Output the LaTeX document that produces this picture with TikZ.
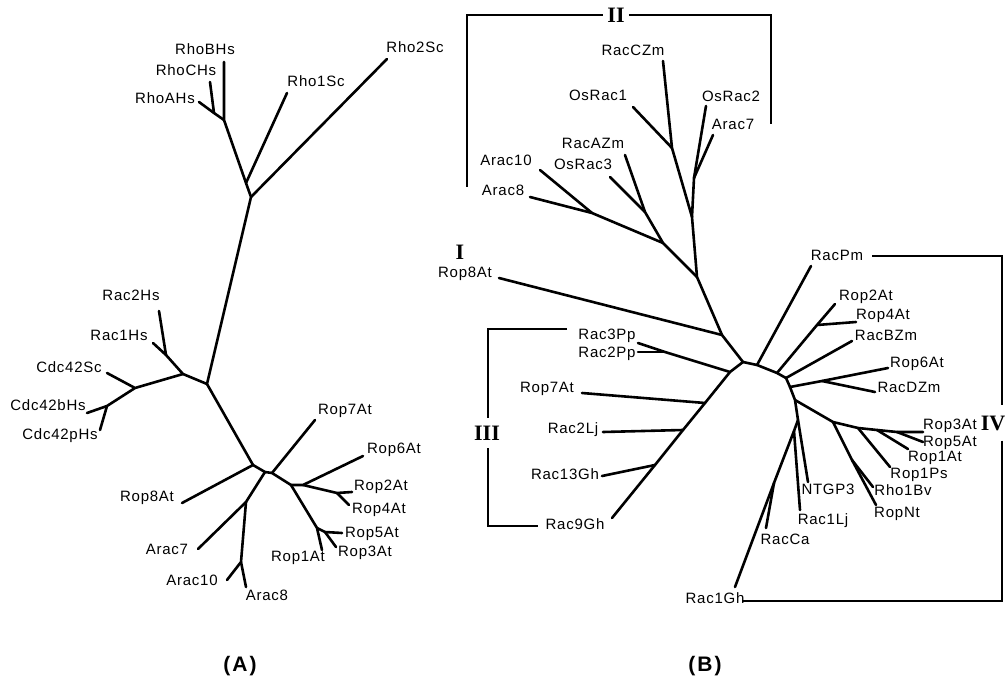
\documentclass[tikz,border=0pt]{standalone}
\usepackage{fontspec}
\setmainfont{Liberation Sans}
\newfontfamily\labfont[LetterSpace=5]{Liberation Sans}
\newfontfamily\romfont{Liberation Serif}
\newfontfamily\capfont[LetterSpace=10]{Liberation Sans}
\begin{document}
\begin{tikzpicture}[x=1pt,y=-1pt,
  br/.style={line width=2.6pt, line cap=round, line join=round},
  bk/.style={line width=1.9pt},
  lab/.style={font=\labfont\fontsize{15}{15}\selectfont, inner sep=0pt, anchor=mid},
  rom/.style={font=\romfont\bfseries\fontsize{22}{22}\selectfont, inner sep=4pt},
  captext/.style={font=\capfont\bfseries\fontsize{21}{21}\selectfont, inner sep=0pt}]
\useasboundingbox (0,0) rectangle (1005,682);

% ================= Panel A =================
\coordinate (aRhoABC) at (224,120);
\coordinate (aRhoAC) at (214,113);
\coordinate (aRho1j) at (246,183);
\coordinate (aRhoRoot) at (251,197);
\coordinate (aMid) at (207,384);
\coordinate (aRacJ) at (183,374);
\coordinate (aRac12) at (166,355);
\coordinate (aCdcJ) at (135,388);
\coordinate (aCdcBP) at (107,406);
\coordinate (aLow) at (253,465);
\coordinate (aAracJ) at (265,472);
\coordinate (aRop7J) at (272,473);
\coordinate (aRop) at (291,485);
\coordinate (aArac) at (246,502);
\coordinate (aArac108) at (241,562);
\coordinate (aRop6J) at (303,485);
\coordinate (aRop24) at (337,493);
\coordinate (aRop135) at (317,528);
\coordinate (aRop35) at (325,532);

\coordinate (tRhoBHs) at (224,62);
\coordinate (tRhoCHs) at (210,82);
\coordinate (tRhoAHs) at (199,102);
\coordinate (tRho1Sc) at (287,93);
\coordinate (tRho2Sc) at (387,59);
\coordinate (tRac2Hs) at (159,311);
\coordinate (tRac1Hs) at (153,343);
\coordinate (tCdc42Sc) at (107,373);
\coordinate (tCdc42bHs) at (87,413);
\coordinate (tCdc42pHs) at (100,430);
\coordinate (tRop8At) at (182,503);
\coordinate (tRop7At) at (315,420);
\coordinate (tArac7) at (198,549);
\coordinate (tArac10) at (227,580);
\coordinate (tArac8) at (246,587);
\coordinate (tRop6At) at (363,456);
\coordinate (tRop2At) at (352,492);
\coordinate (tRop4At) at (349,505);
\coordinate (tRop1At) at (322,550);
\coordinate (tRop5At) at (342,533);
\coordinate (tRop3At) at (336,547);

\draw[br] (tRhoBHs)--(aRhoABC)--(aRho1j)--(aRhoRoot)--(aMid)--(aLow);
\draw[br] (tRhoCHs)--(aRhoAC);
\draw[br] (tRhoAHs)--(aRhoAC)--(aRhoABC);
\draw[br] (tRho1Sc)--(aRho1j);
\draw[br] (tRho2Sc)--(aRhoRoot);
\draw[br] (aMid)--(aRacJ)--(aRac12)--(tRac1Hs);
\draw[br] (aRac12)--(tRac2Hs);
\draw[br] (aRacJ)--(aCdcJ)--(tCdc42Sc);
\draw[br] (aCdcJ)--(aCdcBP)--(tCdc42bHs);
\draw[br] (aCdcBP)--(tCdc42pHs);
\draw[br] (aLow)--(tRop8At);
\draw[br] (aLow)--(aAracJ)--(aRop7J)--(aRop);
\draw[br] (aRop7J)--(tRop7At);
\draw[br] (aAracJ)--(aArac)--(tArac7);
\draw[br] (aArac)--(aArac108)--(tArac10);
\draw[br] (aArac108)--(tArac8);
\draw[br] (aRop)--(aRop6J)--(tRop6At);
\draw[br] (aRop6J)--(aRop24)--(tRop2At);
\draw[br] (aRop24)--(tRop4At);
\draw[br] (aRop)--(aRop135)--(tRop1At);
\draw[br] (aRop135)--(aRop35)--(tRop5At);
\draw[br] (aRop35)--(tRop3At);

\node[lab] (lRhoBHs) at (205,52) {RhoBHs};
\node[lab] (lRhoCHs) at (186,73) {RhoCHs};
\node[lab] (lRhoAHs) at (165,101) {RhoAHs};
\node[lab] (lRho1Sc) at (316,84) {Rho1Sc};
\node[lab] (lRho2Sc) at (415,50) {Rho2Sc};
\node[lab] (lRac2Hs) at (131,298) {Rac2Hs};
\node[lab] (lRac1Hs) at (119,338) {Rac1Hs};
\node[lab] (lCdc42Sc) at (69,370) {Cdc42Sc};
\node[lab] (lCdc42bHs) at (48,408) {Cdc42bHs};
\node[lab] (lCdc42pHs) at (60,437) {Cdc42pHs};
\node[lab] (lRop7At) at (345,412) {Rop7At};
\node[lab] (lRop6At) at (394,451) {Rop6At};
\node[lab] (lRop2At) at (381,488) {Rop2At};
\node[lab] (lRop4At) at (379,511) {Rop4At};
\node[lab] (lRop5At) at (372,535) {Rop5At};
\node[lab] (lRop3At) at (365,554) {Rop3At};
\node[lab] (lRop1At) at (298,559) {Rop1At};
\node[lab] (lRop8At) at (147,499) {Rop8At};
\node[lab] (lArac7) at (167,552) {Arac7};
\node[lab] (lArac10) at (192,583) {Arac10};
\node[lab] (lArac8) at (267,598) {Arac8};

% ================= Panel B =================
\coordinate (bOs1) at (672,148);
\coordinate (bOs2A7) at (694,178);
\coordinate (bIIa) at (692,217);
\coordinate (bIIb) at (663,243);
\coordinate (bRacA) at (645,212);
\coordinate (bArac810) at (592,213);
\coordinate (bII) at (697,277);
\coordinate (bRop8) at (722,335);
\coordinate (r1) at (743,362);
\coordinate (r2) at (757,365);
\coordinate (r3) at (777,373);
\coordinate (r4) at (786,378);
\coordinate (r5) at (790,387);
\coordinate (r6) at (795,400);
\coordinate (r7) at (798,420);
\coordinate (c1) at (730,372);
\coordinate (cPp) at (665,352);
\coordinate (cRop7) at (705,403);
\coordinate (cLj) at (683,430);
\coordinate (cGh13) at (655,465);
\coordinate (dRop4) at (817,325);
\coordinate (dDZm) at (822,381);
\coordinate (g1) at (833,422);
\coordinate (g2) at (858,428);
\coordinate (g3) at (877,430);
\coordinate (g4) at (897,432);
\coordinate (hNt) at (852,460);
\coordinate (kLj) at (794,431);
\coordinate (kCa) at (774,483);

\coordinate (tRacCZm) at (663,61);
\coordinate (tOsRac1) at (633,107);
\coordinate (tOsRac2) at (706,106);
\coordinate (tArac7b) at (713,135);
\coordinate (tRacAZm) at (625,155);
\coordinate (tOsRac3) at (610,177);
\coordinate (tArac10b) at (540,170);
\coordinate (tArac8b) at (530,197);
\coordinate (tRop8Atb) at (499,278);
\coordinate (tRac3Pp) at (638,343);
\coordinate (tRac2Pp) at (638,352);
\coordinate (tRop7Atb) at (582,393);
\coordinate (tRac2Lj) at (603,432);
\coordinate (tRac13Gh) at (602,476);
\coordinate (tRac9Gh) at (612,518);
\coordinate (tRacPm) at (811,266);
\coordinate (tRop2Atb) at (835,304);
\coordinate (tRop4Atb) at (856,322);
\coordinate (tRacBZm) at (852,341);
\coordinate (tRop6Atb) at (888,368);
\coordinate (tRacDZm) at (875,392);
\coordinate (tRop3Atb) at (923,432);
\coordinate (tRop5Atb) at (923,442);
\coordinate (tRop1Atb) at (908,449);
\coordinate (tRop1Ps) at (890,467);
\coordinate (tRho1Bv) at (873,487);
\coordinate (tRopNt) at (876,505);
\coordinate (tNTGP3) at (808,482);
\coordinate (tRac1Lj) at (800,510);
\coordinate (tRacCa) at (766,528);
\coordinate (tRac1Gh) at (735,587);

\draw[br] (tRacCZm)--(bOs1)--(bIIa)--(bII)--(bRop8)--(r1);
\draw[br] (tOsRac1)--(bOs1);
\draw[br] (tOsRac2)--(bOs2A7)--(bIIa);
\draw[br] (tArac7b)--(bOs2A7);
\draw[br] (bII)--(bIIb)--(bRacA)--(tRacAZm);
\draw[br] (bRacA)--(tOsRac3);
\draw[br] (bIIb)--(bArac810)--(tArac8b);
\draw[br] (bArac810)--(tArac10b);
\draw[br] (bRop8)--(tRop8Atb);
\draw[br] (r1)--(r2)--(r3)--(r4)--(r5)--(r6)--(r7);
\draw[br] (r1)--(c1)--(cPp)--(tRac3Pp);
\draw[br] (cPp)--(tRac2Pp);
\draw[br] (c1)--(cRop7)--(cLj)--(cGh13)--(tRac9Gh);
\draw[br] (cRop7)--(tRop7Atb);
\draw[br] (cLj)--(tRac2Lj);
\draw[br] (cGh13)--(tRac13Gh);
\draw[br] (r2)--(tRacPm);
\draw[br] (r3)--(dRop4)--(tRop2Atb);
\draw[br] (dRop4)--(tRop4Atb);
\draw[br] (r4)--(tRacBZm);
\draw[br] (r5)--(dDZm)--(tRop6Atb);
\draw[br] (dDZm)--(tRacDZm);
\draw[br] (r6)--(g1)--(g2)--(g3)--(g4)--(tRop3Atb);
\draw[br] (g4)--(tRop5Atb);
\draw[br] (g3)--(tRop1Atb);
\draw[br] (g2)--(tRop1Ps);
\draw[br] (g1)--(hNt)--(tRopNt);
\draw[br] (hNt)--(tRho1Bv);
\draw[br] (r7)--(tNTGP3);
\draw[br] (r7)--(kLj)--(kCa)--(tRac1Gh);
\draw[br] (kLj)--(tRac1Lj);
\draw[br] (kCa)--(tRacCa);

\node[lab] (lRacCZm) at (633,53) {RacCZm};
\node[lab] (lOsRac1) at (598,98) {OsRac1};
\node[lab] (lOsRac2) at (731,99) {OsRac2};
\node[lab] (lArac7b) at (733,127) {Arac7};
\node[lab] (lRacAZm) at (593,146) {RacAZm};
\node[lab] (lOsRac3) at (583,167) {OsRac3};
\node[lab] (lArac10b) at (506,163) {Arac10};
\node[lab] (lArac8b) at (503,193) {Arac8};
\node[lab] (lRop8Atb) at (465,275) {Rop8At};
\node[lab] (lRac3Pp) at (607,337) {Rac3Pp};
\node[lab] (lRac2Pp) at (607,355) {Rac2Pp};
\node[lab] (lRop7Atb) at (547,390) {Rop7At};
\node[lab] (lRac2Lj) at (573,431) {Rac2Lj};
\node[lab] (lRac13Gh) at (565,477) {Rac13Gh};
\node[lab] (lRac9Gh) at (575,527) {Rac9Gh};
\node[lab] (lRacPm) at (837,258) {RacPm};
\node[lab] (lRop2Atb) at (866,298) {Rop2At};
\node[lab] (lRop4Atb) at (883,317) {Rop4At};
\node[lab] (lRacBZm) at (886,338) {RacBZm};
\node[lab] (lRop6Atb) at (917,365) {Rop6At};
\node[lab] (lRacDZm) at (909,390) {RacDZm};
\node[lab] (lRop3Atb) at (950,427) {Rop3At};
\node[lab] (lRop5Atb) at (950,444) {Rop5At};
\node[lab] (lRop1Atb) at (935,459) {Rop1At};
\node[lab] (lRop1Ps) at (919,476) {Rop1Ps};
\node[lab] (lRho1Bv) at (903,493) {Rho1Bv};
\node[lab] (lRopNt) at (897,515) {RopNt};
\node[lab] (lNTGP3) at (828,492) {NTGP3};
\node[lab] (lRac1Lj) at (823,522) {Rac1Lj};
\node[lab] (lRacCa) at (785,542) {RacCa};
\node[lab] (lRac1Gh) at (715,601) {Rac1Gh};

% group labels and brackets
\node[rom] (romI) at (460,252) {I};
\node[rom] (romII) at (616,15) {II};
\node[rom, inner ysep=8pt] (romIII) at (487,433) {III};
\node[rom, inner ysep=10pt] (romIV) at (993,423) {IV};

\coordinate (IIl) at (467,187);
\coordinate (IIlt) at (467,15);
\coordinate (IIr) at (771,124);
\coordinate (IIrt) at (771,15);
\draw[bk] (IIl)--(IIlt)--(romII.west);
\draw[bk] (romII.east)--(IIrt)--(IIr);

\coordinate (IIIt) at (567,329);
\coordinate (IIItl) at (488,329);
\coordinate (IIIbl) at (488,526);
\coordinate (IIIb) at (538,526);
\draw[bk] (IIIt)--(IIItl)--(IIItl |- romIII.north);
\draw[bk] (IIItl |- romIII.south)--(IIIbl)--(IIIb);

\coordinate (IVt) at (872,256);
\coordinate (IVtr) at (1002,256);
\coordinate (IVbr) at (1002,601);
\coordinate (IVb) at (742,601);
\draw[bk] (IVt)--(IVtr)--(IVtr |- romIV.north);
\draw[bk] (IVtr |- romIV.south)--(IVbr)--(IVb);

% captions
\node[captext] (capA) at (240,666) {(A)};
\node[captext] (capB) at (705,666) {(B)};
\end{tikzpicture}
\end{document}
